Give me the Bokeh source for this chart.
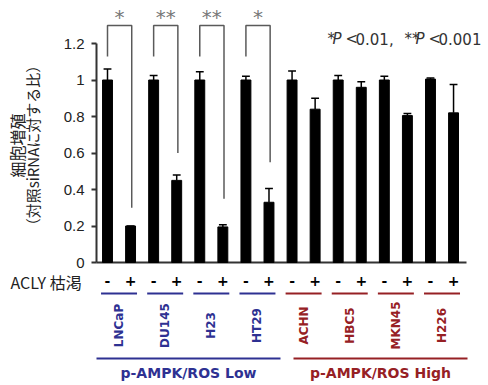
import math
from bokeh.plotting import figure
from bokeh.models import FixedTicker, Label, ColumnDataSource
from bokeh.embed import file_html
from bokeh.resources import INLINE
from bokeh.core.properties import value

# ---------------- data ----------------
cell_lines = ["LNCaP", "DU145", "H23", "HT29", "ACHN", "HBC5", "MKN45", "H226"]
cell_group = [0, 0, 0, 0, 1, 1, 1, 1]
group_names = ["p-AMPK/ROS Low", "p-AMPK/ROS High"]
group_colors = ["#2e3192", "#962024"]
conditions = ["-", "+"]
ctrl_means = [1.0, 1.0, 1.0, 1.0, 1.0, 1.0, 1.0, 1.005]
ctrl_err = [0.06, 0.025, 0.045, 0.02, 0.05, 0.025, 0.02, 0.006]
kd_means = [0.2, 0.45, 0.195, 0.33, 0.84, 0.96, 0.805, 0.82]
kd_err = [0.0, 0.03, 0.012, 0.075, 0.06, 0.03, 0.012, 0.155]
sig_labels = ["*", "**", "**", "*"]
sig_bracket_end = [0.30, 0.60, 0.35, 0.55]
y_ticks = [0, 0.2, 0.4, 0.6, 0.8, 1, 1.2]
y_tick_labels = ["0", "0.2", "0.4", "0.6", "0.8", "1", "1.2"]
y_title = ["細胞増殖", "（対照siRNAに対する比）"]
x_title = "ACLY 枯渇"
p_note = ["*", "P", "<", "0.01,", "**", "P", "<", "0.001"]
p_note_italic = [False, True, False, False, False, True, False, False]

W, H = 488, 385

# ---------------- layout helpers ----------------
def ix(px):
    # canvas pixel x -> bar index units (bar 0 at px 107, 23.07 px per bar)
    return (px - 107) / 23.07

def vy(py):
    # canvas pixel y -> value units (0 at px 262, 182.5 px per unit)
    return (262 - py) / 182.5

n = len(cell_lines)
bar_x, bar_top, err_top, bar_lab = [], [], [], []
for i in range(n):
    bar_x += [2 * i, 2 * i + 1]
    bar_top += [ctrl_means[i], kd_means[i]]
    err_top += [ctrl_means[i] + ctrl_err[i], kd_means[i] + kd_err[i]]
    bar_lab += conditions

src = ColumnDataSource(dict(x=bar_x, top=bar_top, etop=err_top,
                            cl=[xx - 0.17 for xx in bar_x], cr=[xx + 0.17 for xx in bar_x],
                            lab=bar_lab))

p = figure(width=W, height=H, x_range=(ix(0), ix(W)), y_range=(vy(H), vy(0)),
           output_backend="svg", toolbar_location=None, x_axis_location=None,
           min_border_left=0, min_border_right=0, min_border_top=0, min_border_bottom=0)
p.grid.visible = False
p.outline_line_color = None
p.background_fill_color = "white"
p.border_fill_color = "white"

# y axis, drawn at a fixed position inside the frame
ya = p.yaxis[0]
ya.fixed_location = ix(96)
ya.ticker = FixedTicker(ticks=y_ticks)
ya.major_label_overrides = {t: l for t, l in zip(y_ticks, y_tick_labels)}
ya.bounds = (0, 1.2)
ya.axis_line_width = 2
ya.axis_line_color = "#333333"
ya.major_tick_line_color = "#333333"
ya.major_tick_line_width = 2
ya.major_tick_out = 5
ya.major_tick_in = 0
ya.minor_tick_out = 0
ya.minor_tick_in = 0
ya.major_label_standoff = 7
ya.major_label_text_font = "Liberation Sans"
ya.major_label_text_font_size = "15px"
ya.major_label_text_color = "#222222"

# baseline
p.segment(x0=[ix(96)], x1=[ix(466)], y0=[0], y1=[0], line_color="#333333", line_width=2)

# bars and error bars
p.vbar(x="x", top="top", width=0.43, source=src, fill_color="black", line_color="black")
p.segment(x0="x", x1="x", y0="top", y1="etop", source=src, line_color="black", line_width=1.5)
p.segment(x0="cl", x1="cr", y0="etop", y1="etop", source=src, line_color="black", line_width=1.5)

# significance brackets
top_y, leg_y = vy(25), vy(56)
bxs, bys, sx, st = [], [], [], []
for i, (lab, end) in enumerate(zip(sig_labels, sig_bracket_end)):
    xl, xr = 2 * i, 2 * i + 1.05
    bxs.append([xl, xl, xr, xr])
    bys.append([leg_y, top_y, top_y, end])
    sx.append(2 * i + 0.52)
    st.append(lab)
p.multi_line(xs=bxs, ys=bys, line_color="#5a5a5a", line_width=1.5)
p.text(x=sx, y=[vy(12)] * len(sx), text=st, text_align="center", text_baseline="middle",
       text_font=value("DejaVu Sans"), text_font_size="20px", text_color="#777777",
       y_offset=4)

# p-value note
note_px = [327, 332, 345, 355, 404, 415, 428, 438]
for t, it, px in zip(p_note, p_note_italic, note_px):
    p.add_layout(Label(x=ix(px), y=vy(38), text=t, text_align="left", text_baseline="alphabetic",
                       text_font="DejaVu Sans", text_font_size="15px", text_color="#333333",
                       text_font_style="italic" if it else "normal"))

# condition labels
p.text(x="x", y=vy(280), text="lab", source=src, text_align="center", text_baseline="middle",
       text_font=value("DejaVu Sans"), text_font_style="bold", text_font_size="14px",
       text_color="black")

# cell-line underlines and labels
ux0 = [2 * i + 0.5 - 0.78 for i in range(n)]
ux1 = [2 * i + 0.5 + 0.78 for i in range(n)]
ucol = [group_colors[g] for g in cell_group]
p.segment(x0=ux0, x1=ux1, y0=[vy(293)] * n, y1=[vy(293)] * n, line_color=ucol, line_width=2)
p.text(x=[2 * i + 0.5 for i in range(n)], y=[vy(325)] * n, text=cell_lines, angle=math.pi / 2,
       text_align="center", text_baseline="middle", text_font=value("DejaVu Sans"),
       text_font_style="bold", text_font_size="12px", text_color=ucol)

# group lines and labels
g_span = [(ix(96), ix(280)), (ix(293), ix(467))]
p.segment(x0=[s[0] for s in g_span], x1=[s[1] for s in g_span], y0=[vy(358)] * 2, y1=[vy(358)] * 2,
          line_color=group_colors, line_width=2)
p.text(x=[(s[0] + s[1]) / 2 for s in g_span], y=[vy(372)] * 2, text=group_names,
       text_align="center", text_baseline="middle", text_font=value("DejaVu Sans"),
       text_font_style="bold", text_font_size="14px", text_color=group_colors)

# y title (two rotated lines) and x-side label
p.add_layout(Label(x=ix(16), y=vy(145), text=y_title[0], angle=math.pi / 2, text_align="center",
                   text_baseline="middle", text_font="Noto Sans CJK JP", text_font_size="16px",
                   text_color="#222222"))
p.add_layout(Label(x=ix(32), y=vy(145), text=y_title[1], angle=math.pi / 2, text_align="center",
                   text_baseline="middle", text_font="Noto Sans CJK JP", text_font_size="15px",
                   text_color="#222222"))
p.add_layout(Label(x=ix(10), y=vy(281), text=x_title, text_align="left", text_baseline="middle",
                   text_font="Noto Sans CJK JP", text_font_size="16px", text_color="#222222"))

open("out.html", "w").write(file_html(p, INLINE))
